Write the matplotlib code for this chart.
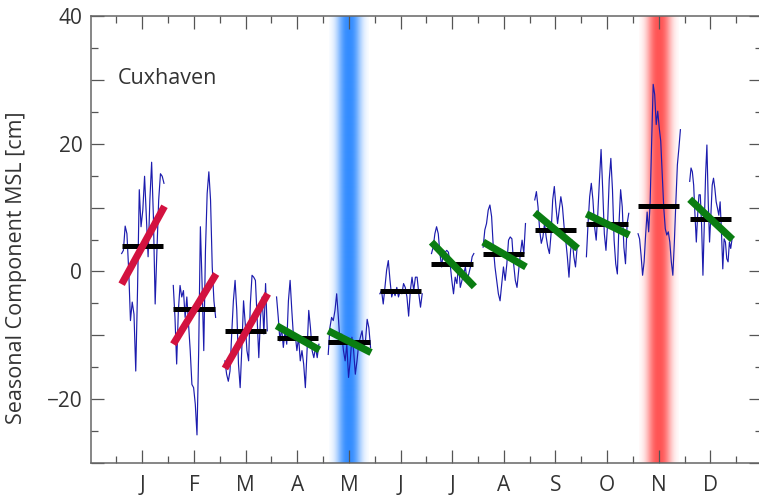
import numpy as np
import matplotlib
matplotlib.use("Agg")
import matplotlib.pyplot as plt
from matplotlib.ticker import FixedLocator, FuncFormatter

plt.rcParams["font.family"] = ["Open Sans", "DejaVu Sans"]

# -----------------------------
# DATA
# -----------------------------
months = ["J", "F", "M", "A", "M", "J", "J", "A", "S", "O", "N", "D"]

jan = [2.8, 3.3, 7.1, 5.9, 0.2, -7.7, -4.8, -6.7, -15.6, -3.0, 12.8, 7.0, 9.6,
       14.9, 8.6, 2.3, 11.2, 17.1, 8.6, -5.1, 3.3, 11.2, 15.3, 14.9, 13.8]
feb = [-2.2, -7.2, -14.5, -6.1, -2.2, -4.0, -3.0, -7.2, -4.0, -8.2, -12.4, -17.7,
       -18.2, -20.8, -25.6, -12.4, 7.0, -1.9, -12.4, 3.3, 12.2, 15.6, 11.2, 0.7,
       -4.6, -7.2]
mar = [-14.0, -16.1, -17.2, -15.6, -9.8, -4.6, -1.4, -6.1, -14.5, -18.2, -11.9,
       -4.6, -8.2, -12.4, -14.0, -5.1, -0.6, -0.9, -1.4, -7.2, -13.5, -7.2, -4.0,
       -9.8, -1.9, -9.3]
apr = [-4.0, -7.2, -10.9, -8.8, -11.9, -9.3, -11.4, -4.6, -1.4, -6.1, -10.3, -9.8,
       -12.4, -10.3, -14.0, -12.4, -14.5, -18.2, -12.4, -6.1, -8.8, -12.4, -13.5,
       -11.9, -13.5, -11.4]
may = [-13.0, -8.8, -7.2, -7.7, -6.1, -3.5, -7.2, -11.4, -9.8, -12.4, -14.0, -11.4,
       -16.6, -14.0, -10.3, -12.4, -16.1, -14.0, -11.4, -10.3, -9.3, -11.9, -10.9,
       -7.5, -8.8, -11.9]
jun = [-3.5, -3.0, -5.1, -2.5, 0.2, 1.7, -1.4, -4.0, -3.0, -3.8, -2.5, -4.0, -3.0,
       -3.5, -1.9, -2.5, -4.0, -7.0, -3.0, -0.9, -3.0, -0.9, -0.9, -3.5, -5.6, -3.5]
jul = [2.8, 3.8, 5.9, 7.0, 5.9, 2.8, 0.7, 3.3, 3.0, 3.3, 3.0, 1.2, -1.4, -3.5,
       -0.9, -1.9, 1.2, -2.5, -1.4, -0.4, 0.7, -1.4, -0.4, 0.7, 2.3, 2.8]
aug = [3.8, 6.5, 7.5, 9.6, 10.4, 8.6, 3.8, 0.7, -1.4, -3.5, -4.6, -1.9, 0.7, -1.4,
       1.2, 4.9, 5.4, 5.1, 1.2, -1.4, -2.5, 0.2, 2.8, 4.9, 2.8, 7.5]
sep = [11.2, 12.5, 10.1, 6.5, 4.4, 5.4, 7.5, 5.4, 3.8, 2.8, 5.9, 11.2, 13.3, 10.1,
       7.5, 9.6, 11.7, 10.1, 7.0, 4.9, 2.3, -0.9, 3.3, 4.9, 2.3, 0.7, 3.8]
octo = [2.3, 7.5, 11.7, 13.8, 11.2, 7.0, 4.9, 9.1, 14.3, 19.1, 12.8, 5.9, 3.3, 7.5,
        14.3, 17.7, 12.8, 4.9, 1.2, -0.4, 7.5, 12.8, 10.1, 3.8, 1.2, 7.5, 9.1]
nov = [5.9, 5.1, 2.5, -0.6, 1.5, 5.7, 9.3, 6.2, 10.9, 20.4, 29.3, 27.7, 23.0, 25.1,
       22.5, 20.4, 15.1, 9.9, 6.7, 5.7, 6.2, 4.6, 1.5, -0.6, 4.6, 10.9, 16.7, 19.3,
       22.2]
dec = [14.1, 16.2, 15.6, 13.5, 8.8, 4.6, 8.8, 12.0, 12.0, 7.2, -0.6, 7.2, 15.1,
       19.8, 10.9, 4.6, 8.8, 13.5, 14.6, 13.0, 10.9, 9.9, 8.8, 10.9, 6.2, 0.4, 5.1,
       4.6, 2.0, 1.5, 4.6, 3.6, 5.1]
series = [jan, feb, mar, apr, may, jun, jul, aug, sep, octo, nov, dec]

month_mean = [4.0, -5.9, -9.4, -10.5, -11.0, -3.1, 1.2, 2.8, 6.5, 7.4, 10.2, 8.2]

# trend line start / end values (None = no significant trend)
trend_start = [-2.0, -11.4, -15.2, -8.5, -9.3, None, 4.6, 4.6, 9.2, 9.0, None, 11.3]
trend_end = [10.2, -0.4, -3.5, -12.3, -12.7, None, -2.4, 0.7, 3.6, 5.7, None, 5.0]
trend_up = [True, True, True, False, False, None, False, False, False, False, None, False]

# highlighted months (1-based): May blue, November red
band_months = {5: (0.20, 0.55, 1.0), 11: (1.0, 0.33, 0.33)}

# -----------------------------
# FIGURE
# -----------------------------
fig = plt.figure(figsize=(7.59, 4.96), dpi=100)
ax = fig.add_axes([90.65 / 759, 33 / 496, (762 - 90.65) / 759, 447 / 496])

ax.set_xlim(0, 13)
ax.set_ylim(-30, 40)

# gradient bands
prof = np.linspace(-1, 1, 200)
alpha = np.exp(-(np.abs(prof) / 0.6) ** 2.5)
for m, rgb in band_months.items():
    img = np.zeros((1, len(prof), 4))
    img[..., 0], img[..., 1], img[..., 2] = rgb
    img[..., 3] = alpha
    ax.imshow(img, extent=(m - 0.38, m + 0.38, -30, 40), aspect="auto",
              interpolation="bilinear", zorder=0)

for i, vals in enumerate(series):
    m = i + 1
    x = np.linspace(m - 0.4, m + 0.42, len(vals))
    ax.plot(x, vals, color="#1c1cae", lw=0.85, zorder=2)
    ax.plot([m - 0.4, m + 0.4], [month_mean[i]] * 2, color="black",
            lw=3.6, solid_capstyle="butt", zorder=3)
    if trend_start[i] is not None:
        col = "#d3123f" if trend_up[i] else "#0a7d12"
        ax.plot([m - 0.4, m + 0.43], [trend_start[i], trend_end[i]], color=col,
                lw=5.2, solid_capstyle="butt", zorder=4)

ax.text(0.53, 30.2, "Cuxhaven", fontsize=15.5, color="#333333", va="center")

# -----------------------------
# AXES STYLE
# -----------------------------
ax.xaxis.set_major_locator(FixedLocator(np.arange(1, 13)))
ax.xaxis.set_minor_locator(FixedLocator(np.arange(0.5, 13, 1.0)))
ax.set_xticklabels(months)
ax.yaxis.set_major_locator(FixedLocator(np.arange(-30, 41, 10)))
ax.yaxis.set_minor_locator(FixedLocator(np.arange(-30, 41, 5)))
ax.yaxis.set_major_formatter(FuncFormatter(
    lambda v, p: f"{int(v)}".replace("-", "\u2212") if v % 20 == 0 else ""))

ax.tick_params(which="both", direction="in", top=True, right=True,
               color="#555555", width=0.9, labelsize=15, labelcolor="#333333")
ax.tick_params(which="major", length=9.5)
ax.tick_params(which="minor", length=5)
ax.tick_params(axis="x", pad=8.5)
ax.tick_params(axis="y", pad=6)
for sp in ax.spines.values():
    sp.set_color("#666666")
    sp.set_linewidth(1.1)

ax.set_ylabel("Seasonal Component MSL [cm]", fontsize=15.5, color="#333333")
ax.yaxis.set_label_coords(-0.095, 0.436)

fig.savefig("out.png", dpi=100)
